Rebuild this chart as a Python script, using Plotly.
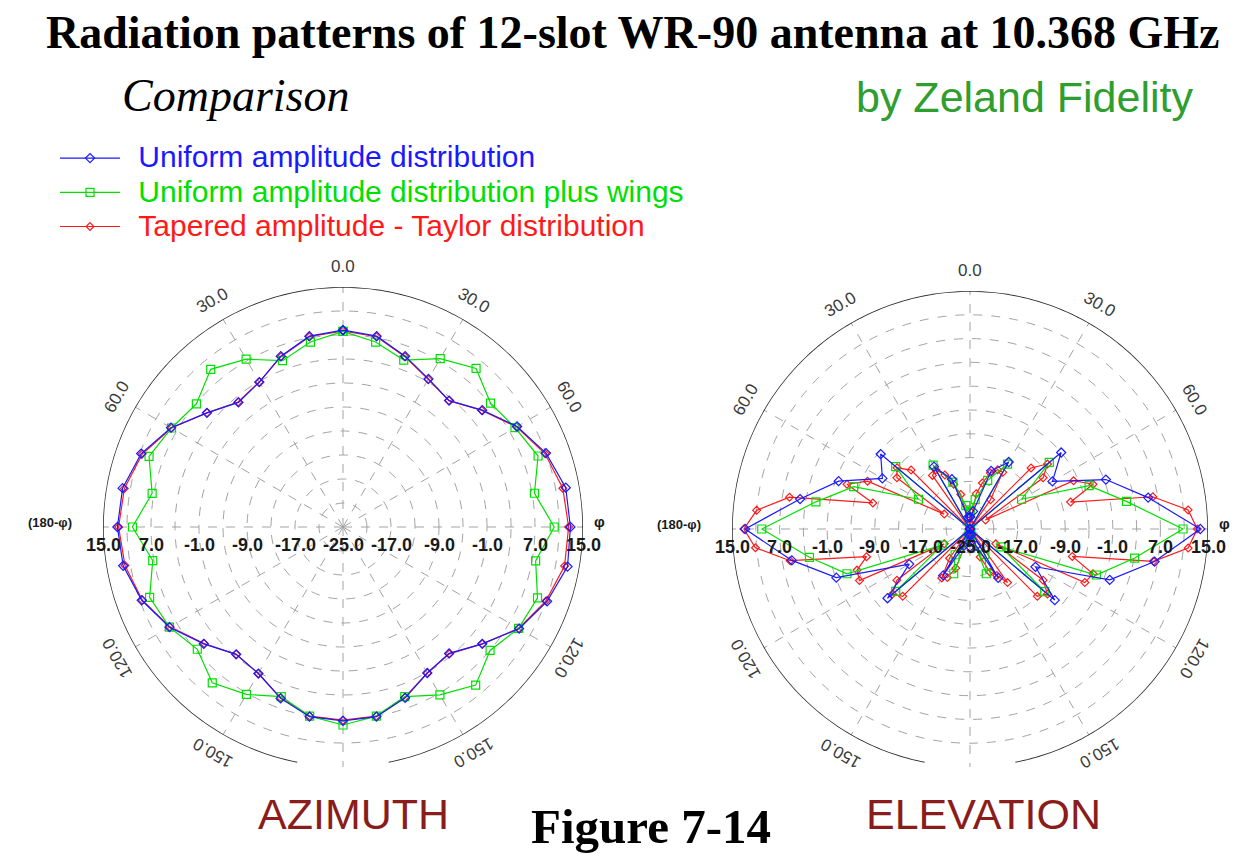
import numpy as np
import plotly.graph_objects as go

W, H = 1246, 854

# ---------------- data (dB) ----------------
AZ_THETA = list(range(0, 360, 10))
AZ_UNIFORM = [7.8, 7.3, 5.3, 3.5, 2.5, 5.3, 8.5, 11.0, 12.7, 12.9, 13.0, 11.2,
              8.9, 5.3, 2.5, 3.1, 5.3, 7.1, 7.3, 7.1, 5.4, 3.2, 2.7, 5.3,
              8.4, 10.7, 12.2, 12.6, 12.3, 10.8, 8.1, 4.6, 2.1, 2.9, 5.3, 7.3]
AZ_WINGS = [7.6, 6.3, 4.6, 7.4, 9.5, 7.1, 8.1, 9.6, 7.4, 10.2, 7.6, 9.5,
            8.8, 7.0, 9.4, 7.3, 5.1, 7.0, 8.0, 7.0, 5.1, 7.2, 8.9, 6.7,
            8.4, 9.3, 7.2, 10.1, 7.3, 9.4, 8.0, 6.9, 9.3, 7.3, 4.5, 6.3]
AZ_TAYLOR = [7.7, 7.2, 5.2, 3.4, 2.5, 5.2, 8.4, 10.8, 12.2, 12.6, 12.5, 11.0,
             8.8, 5.3, 2.6, 3.1, 5.2, 7.0, 7.2, 7.0, 5.3, 3.2, 2.7, 5.2,
             8.3, 10.6, 11.9, 12.4, 12.0, 10.6, 8.0, 4.6, 2.2, 2.9, 5.2, 7.2]

EL_THETA = list(range(0, 360, 10))
EL_UNIFORM = [-23, -22, -14.6, -12, -25, -5, -9, -0.7, 5.4, 13.7, 6.5, 0,
              -12.3, -6.4, -25, -15.5, -22, -24, -22, -24, -22, -16, -25, -6.9,
              -13.2, -1.1, 5.4, 12.8, 4.0, -1.5, -8, -5.4, -25, -12.9, -16.1, -23]
EL_WINGS = [-22, -20, -16.3, -12.4, -25, -7.6, -15, -3.7, 1.7, 10.8, 3.1, -2.4,
            -19, -8.6, -25, -20, -17, -24, -23, -24, -17, -20, -25, -8.7,
            -19.6, -3, 2.4, 10, 1.3, -4.2, -15, -8.7, -25, -12.6, -16.6, -21]
EL_TAYLOR_THETA = list(range(0, 360, 5))
EL_TAYLOR = [-22, -24, -19, -17, -15, -14, -14, -19, -25, -10.5, -8, -10,
             -22, -5.8, -3, -7.5, 6.2, 11.8, 13.2, 11.8, 6.3, -7.2, -3, -3.7,
             -20, -10, -8, -9, -25, -14, -16, -17, -20, -24, -25, -24,
             -23, -24, -25, -23, -18, -16, -15.5, -19, -25, -9, -8, -10,
             -20, -4.5, -4.8, -7, 5.7, 11.2, 13, 11, 5.8, -8.1, -3, -6,
             -20, -10, -9, -11, -25, -14, -13.5, -15, -17, -19, -24, -24]

SERIES_NAMES = ["Uniform amplitude distribution",
                "Uniform amplitude distribution plus wings",
                "Tapered amplitude - Taylor distribution"]
SERIES_COLORS = ["#1a1aff", "#00e000", "#ff1a1a"]

R_RANGE = [-25, 15]
RADIAL_LABEL_VALUES = [15, 7, -1, -9, -17]
RADIAL_LABELS = ["15.0", "7.0", "-1.0", "-9.0", "-17.0"]
CENTER_LABEL = "-25.0"
ANG_LABEL_ANGLES = [0, 30, 60, 120, 150, 210, 240, 300, 330]
ANG_LABEL_TEXT = ["0.0", "30.0", "60.0", "120.0", "150.0", "150.0", "120.0", "60.0", "30.0"]

# ---------------- geometry ----------------
AZ_C, AZ_R = (343, 527), 240
EL_C, EL_R = (970, 529), 238


def dom(c, R):
    cx, cy = c
    return dict(x=[(cx - R) / W, (cx + R) / W], y=[1 - (cy + R) / H, 1 - (cy - R) / H])


def closed(t, r):
    return list(t) + [t[0]], list(r) + [r[0]]


fig = go.Figure()

circ_t = np.arange(-169, 170, 1)
for sub in ["polar", "polar2"]:
    fig.add_trace(go.Scatterpolar(theta=circ_t, r=[R_RANGE[1]] * len(circ_t), mode="lines",
                                  line=dict(color="#2a2a2a", width=1.6), subplot=sub,
                                  showlegend=False, hoverinfo="skip", cliponaxis=False))

sym = ["diamond-open", "square-open", "diamond-open"]
sizes = [7, 8, 6]
az_data = [AZ_UNIFORM, AZ_WINGS, AZ_TAYLOR]
el_data = [(EL_THETA, EL_UNIFORM), (EL_THETA, EL_WINGS), (EL_TAYLOR_THETA, EL_TAYLOR)]
for i in [2, 1, 0]:
    t, r = closed(AZ_THETA, az_data[i])
    fig.add_trace(go.Scatterpolar(
        theta=t, r=r, mode="lines+markers", subplot="polar",
        name='&nbsp;&nbsp;<span style="color:%s;font-size:30px">%s</span>' % (SERIES_COLORS[i], SERIES_NAMES[i]),
        legendrank=i + 1,
        line=dict(color=SERIES_COLORS[i], width=1.2),
        marker=dict(symbol=sym[i], size=sizes[i], color=SERIES_COLORS[i], line=dict(width=1.2)),
        cliponaxis=False))
for i in [2, 1, 0]:
    t, r = closed(*el_data[i])
    fig.add_trace(go.Scatterpolar(
        theta=t, r=r, mode="lines+markers", subplot="polar2", showlegend=False,
        line=dict(color=SERIES_COLORS[i], width=1.2),
        marker=dict(symbol=sym[i], size=sizes[i], color=SERIES_COLORS[i], line=dict(width=1.2)),
        cliponaxis=False))


def polar_layout(c, R):
    return dict(
        domain=dom(c, R), bgcolor="white",
        angularaxis=dict(rotation=90, direction="clockwise", tickvals=list(range(0, 360, 30)),
                         showticklabels=False, ticks="", showline=False,
                         gridcolor="#a3a3a3", griddash="dash", gridwidth=1),
        radialaxis=dict(range=R_RANGE, tickvals=list(range(-21, 15, 4)), showticklabels=False,
                        ticks="", showline=False, gridcolor="#a3a3a3", griddash="dash", gridwidth=1))


ann = []


def add_text(px, py, text, size, color="black", family="Liberation Sans", xa="center", angle=0):
    ann.append(dict(x=px / W, y=1 - py / H, xref="paper", yref="paper", text=text, showarrow=False,
                    xanchor=xa, yanchor="middle", textangle=angle,
                    font=dict(size=size, color=color, family=family)))


for (c, R) in [(AZ_C, AZ_R), (EL_C, EL_R)]:
    cx, cy = c
    scale = R / (R_RANGE[1] - R_RANGE[0])
    for v, lab in zip(RADIAL_LABEL_VALUES, RADIAL_LABELS):
        d = (v - R_RANGE[0]) * scale
        add_text(cx - d, cy + 18, "<b>%s</b>" % lab, 18, "#1a1a1a")
        add_text(cx + d, cy + 18, "<b>%s</b>" % lab, 18, "#1a1a1a")
    add_text(cx, cy + 18, "<b>%s</b>" % CENTER_LABEL, 18, "#1a1a1a")
    for a, lab in zip(ANG_LABEL_ANGLES, ANG_LABEL_TEXT):
        rr = R + 21
        th = np.radians(a)
        ang = a if a <= 180 else a - 360
        add_text(cx + rr * np.sin(th), cy - rr * np.cos(th), lab, 17, "#3a3a3a", angle=ang)
    add_text(cx - R - 53, cy - 5, "<b>(180-φ)</b>", 13, "#1a1a1a")
    add_text(cx + R + 16, cy - 6, "<b>φ</b>", 15, "#1a1a1a")

add_text(632, 32, "<b>Radiation patterns of 12-slot WR-90 antenna at 10.368 GHz</b>", 46,
         "black", "Liberation Serif")
add_text(120, 95, "<i>Comparison</i>", 46, "black", "Liberation Serif", xa="left")
add_text(1195, 97, "by Zeland Fidelity", 43, "#2e9e2e", xa="right")
add_text(353, 814, "AZIMUTH", 43, "#8b1c1c")
add_text(983, 814, "ELEVATION", 43, "#8b1c1c")
add_text(651, 826, "<b>Figure 7-14</b>", 49, "black", "Liberation Serif")

fig.update_layout(
    width=W, height=H, autosize=False, margin=dict(l=0, r=0, t=0, b=0),
    paper_bgcolor="white", plot_bgcolor="white",
    polar=polar_layout(AZ_C, AZ_R), polar2=polar_layout(EL_C, EL_R),
    annotations=ann,
    legend=dict(x=55 / W, y=1 - 136 / H, xanchor="left", yanchor="top", traceorder="normal",
                font=dict(family="Liberation Sans", size=24), itemwidth=60,
                bgcolor="rgba(0,0,0,0)", tracegroupgap=0),
    showlegend=True,
)

fig.write_html("out.html")
